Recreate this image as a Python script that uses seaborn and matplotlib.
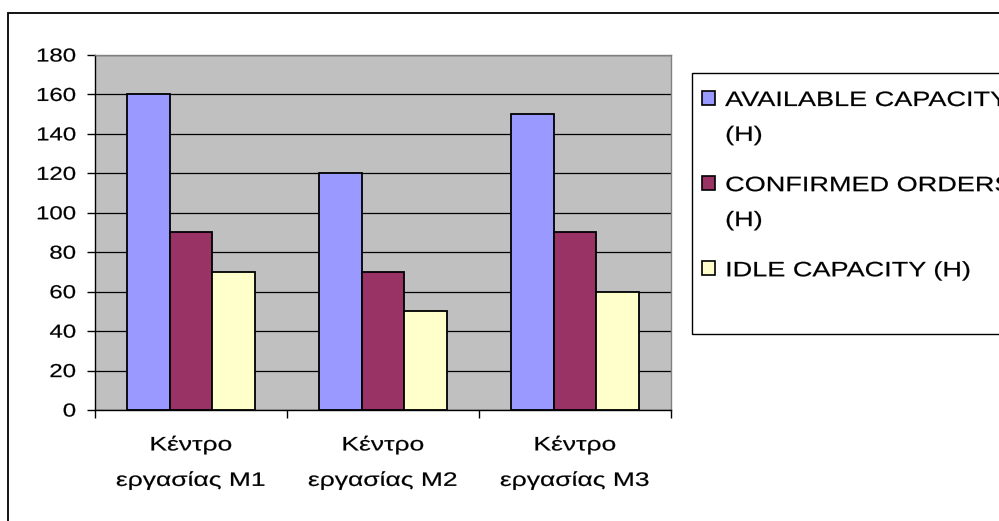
import numpy as np
import pandas as pd
import matplotlib
matplotlib.use("Agg")
import matplotlib.pyplot as plt
import seaborn as sns
from matplotlib.patches import Patch, Rectangle
from matplotlib.patheffects import AbstractPathEffect
from matplotlib.transforms import Affine2D
from matplotlib.path import Path

# ---- data -------------------------------------------------------------
categories = ["Κέντρο\nεργασίας M1", "Κέντρο\nεργασίας M2", "Κέντρο\nεργασίας M3"]
series = ["AVAILABLE CAPACITY (H)", "CONFIRMED ORDERS (H)", "IDLE CAPACITY (H)"]
legend_labels = ["AVAILABLE CAPACITY\n(H)", "CONFIRMED ORDERS\n(H)", "IDLE CAPACITY (H)"]
available = [160, 120, 150]
confirmed = [90, 70, 90]
idle = [70, 50, 60]
y_ticks = [0, 20, 40, 60, 80, 100, 120, 140, 160, 180]
colors = ["#9999FF", "#993366", "#FFFFCC"]

plt.rcParams["font.family"] = ["Liberation Sans", "DejaVu Sans"]

W, H = 999, 521


class WideText(AbstractPathEffect):
    """Draw glyphs widened horizontally with a slightly heavier stroke."""

    def __init__(self, sx=1.3, anchor="left", weight=0.15):
        super().__init__()
        self.sx = sx
        self.anchor = anchor
        self.weight = weight

    def draw_path(self, renderer, gc, tpath, affine, rgbFace=None):
        verts = tpath.vertices
        if tpath.codes is not None:
            verts = verts[tpath.codes != Path.CLOSEPOLY]
        cx = 0.0
        if len(verts):
            if self.anchor == "center":
                cx = (verts[:, 0].min() + verts[:, 0].max()) / 2
            elif self.anchor == "right":
                cx = verts[:, 0].max()
        stretch = Affine2D().translate(-cx, 0).scale(self.sx, 1).translate(cx, 0)
        gc0 = renderer.new_gc()
        gc0.copy_properties(gc)
        gc0.set_linewidth(self.weight)
        if rgbFace is not None:
            gc0.set_foreground(rgbFace)
        renderer.draw_path(gc0, tpath, stretch + affine, rgbFace)
        gc0.restore()


rows = []
for name, vals in zip(series, [available, confirmed, idle]):
    for cat, v in zip(categories, vals):
        rows.append({"category": cat, "series": name, "value": v})
df = pd.DataFrame(rows)

fig = plt.figure(figsize=(W / 100, H / 100), dpi=100)
ax = fig.add_axes([95 / W, 1 - 410 / H, 576 / W, 355 / H])
ax.set_facecolor("#C0C0C0")

sns.barplot(data=df, x="category", y="value", hue="series", order=categories,
            hue_order=series, palette=colors, width=0.667, saturation=1,
            edgecolor="black", linewidth=1.3, ax=ax, legend=False)

ax.set_xlim(-0.5, 2.5)
ax.set_ylim(0, 180)
ax.set_xlabel("")
ax.set_ylabel("")
ax.set_yticks(y_ticks)
ax.set_yticklabels([str(v) for v in y_ticks])
ax.yaxis.grid(True, color="black", linewidth=0.9)
ax.xaxis.grid(False)
ax.set_axisbelow(True)

ax.tick_params(axis="y", length=5.8, width=1, pad=7.9, labelsize=13.5,
               color="black", direction="out")
ax.set_xticks([0, 1, 2])
ax.set_xticklabels(categories)
ax.set_xticks([-0.5, 0.5, 1.5, 2.5], minor=True)
ax.tick_params(axis="x", which="major", length=0, pad=19, labelsize=14)
ax.tick_params(axis="x", which="minor", length=5.8, width=1, color="black",
               direction="out")

for side in ("left", "bottom"):
    ax.spines[side].set_color("black")
    ax.spines[side].set_linewidth(1.0)
for side in ("top", "right"):
    ax.spines[side].set_color("#808080")
    ax.spines[side].set_linewidth(1.0)

for t in ax.get_yticklabels():
    t.set_path_effects([WideText(1.28, "right")])
for t in ax.get_xticklabels():
    t.set_linespacing(2.25)
    t.set_path_effects([WideText(1.36, "center")])

# legend
handles = [Patch(facecolor=c, edgecolor="black", linewidth=1.2) for c in colors]
leg = fig.legend(handles, legend_labels, loc="upper left",
                 bbox_to_anchor=(702 / W, 1 - 91 / H), bbox_transform=fig.transFigure,
                 frameon=False, fontsize=15, borderpad=0, borderaxespad=0,
                 handlelength=0.63, handleheight=0.63, handletextpad=0.48,
                 labelspacing=1.5)
for col in leg._legend_handle_box.get_children():
    for item in col.get_children():
        item.align = "top"
for t in leg.get_texts():
    t.set_linespacing(2.06)
    t.set_path_effects([WideText(1.3, "left")])

fig.add_artist(Rectangle((692 / W, 1 - 334 / H), 0.5, (334 - 73) / H,
                         transform=fig.transFigure, fill=False,
                         edgecolor="black", linewidth=1.0))
fig.add_artist(Rectangle((8 / W, -0.1), 1.0, 1 - 13 / H + 0.1,
                         transform=fig.transFigure, fill=False,
                         edgecolor="black", linewidth=1.3))

fig.savefig("out.png", dpi=100, facecolor="white")
